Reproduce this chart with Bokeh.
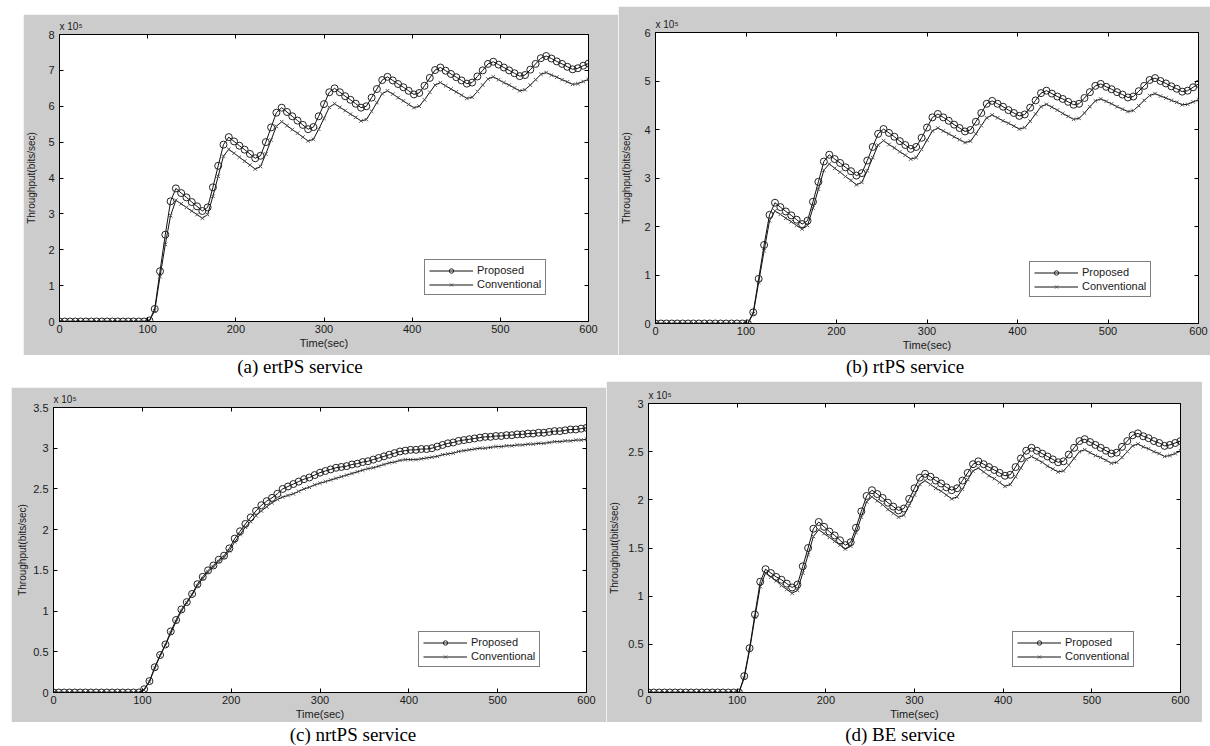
from bokeh.plotting import figure
from bokeh.models import (LinearAxis, FixedTicker, Legend, LegendItem, Div,
                          Spacer, Range1d, Title)
from bokeh.layouts import row, column
from bokeh.embed import file_html
from bokeh.resources import INLINE

# ---------------- data (throughput in units of 1e5 bits/sec) ----------------
time_s = [0, 6, 12, 18, 24, 30, 36, 42, 48, 54, 60, 66, 72, 78, 84, 90, 96,
          102, 108, 114, 120, 126, 132, 138, 144, 150, 156, 162, 168, 174, 180,
          186, 192, 198, 204, 210, 216, 222, 228, 234, 240, 246, 252, 258, 264,
          270, 276, 282, 288, 294, 300, 306, 312, 318, 324, 330, 336, 342, 348,
          354, 360, 366, 372, 378, 384, 390, 396, 402, 408, 414, 420, 426, 432,
          438, 444, 450, 456, 462, 468, 474, 480, 486, 492, 498, 504, 510, 516,
          522, 528, 534, 540, 546, 552, 558, 564, 570, 576, 582, 588, 594, 600]

Z17 = [0.0] * 17

ertps_proposed = Z17 + [
    0.03, 0.35, 1.40, 2.42, 3.35, 3.71,
    3.58, 3.46, 3.33, 3.21, 3.08, 3.18, 3.74, 4.34, 4.93, 5.14,
    5.02, 4.90, 4.79, 4.67, 4.55, 4.62, 5.00, 5.41, 5.82, 5.96,
    5.84, 5.72, 5.60, 5.48, 5.36, 5.42, 5.72, 6.06, 6.39, 6.50,
    6.39, 6.28, 6.18, 6.07, 5.96, 6.00, 6.24, 6.48, 6.73, 6.82,
    6.72, 6.62, 6.53, 6.43, 6.33, 6.37, 6.57, 6.79, 7.01, 7.08,
    6.99, 6.90, 6.81, 6.72, 6.63, 6.66, 6.83, 7.00, 7.18, 7.24,
    7.16, 7.08, 7.00, 6.92, 6.84, 6.87, 7.02, 7.18, 7.34, 7.40,
    7.33, 7.25, 7.18, 7.10, 7.03, 7.06, 7.13, 7.19]
ertps_conventional = Z17 + [
    0.02, 0.30, 1.25, 2.15, 2.95, 3.38,
    3.28, 3.18, 3.08, 2.98, 2.88, 2.98, 3.49, 4.05, 4.61, 4.80,
    4.69, 4.58, 4.47, 4.36, 4.25, 4.32, 4.67, 5.06, 5.44, 5.57,
    5.46, 5.35, 5.25, 5.14, 5.03, 5.08, 5.36, 5.66, 5.97, 6.07,
    5.97, 5.88, 5.78, 5.69, 5.59, 5.63, 5.86, 6.10, 6.35, 6.43,
    6.34, 6.24, 6.15, 6.05, 5.96, 6.00, 6.18, 6.39, 6.59, 6.66,
    6.57, 6.48, 6.40, 6.31, 6.22, 6.25, 6.41, 6.59, 6.76, 6.82,
    6.74, 6.66, 6.59, 6.51, 6.43, 6.46, 6.59, 6.74, 6.89, 6.94,
    6.87, 6.81, 6.74, 6.68, 6.61, 6.63, 6.69, 6.75]

rtps_proposed = Z17 + [
    0.00, 0.23, 0.92, 1.62, 2.24, 2.49,
    2.40, 2.31, 2.23, 2.14, 2.05, 2.12, 2.51, 2.92, 3.34, 3.48,
    3.39, 3.31, 3.22, 3.14, 3.05, 3.10, 3.36, 3.64, 3.91, 4.01,
    3.93, 3.85, 3.76, 3.68, 3.60, 3.64, 3.83, 4.04, 4.25, 4.32,
    4.25, 4.18, 4.10, 4.03, 3.96, 3.99, 4.16, 4.34, 4.53, 4.59,
    4.53, 4.47, 4.40, 4.34, 4.28, 4.31, 4.45, 4.60, 4.75, 4.80,
    4.74, 4.68, 4.63, 4.57, 4.51, 4.53, 4.65, 4.77, 4.90, 4.94,
    4.88, 4.83, 4.77, 4.72, 4.66, 4.68, 4.79, 4.90, 5.02, 5.06,
    5.00, 4.95, 4.89, 4.84, 4.78, 4.80, 4.87, 4.94]
rtps_conventional = Z17 + [
    0.00, 0.20, 0.85, 1.50, 2.12, 2.32,
    2.25, 2.17, 2.10, 2.02, 1.95, 2.02, 2.38, 2.77, 3.16, 3.29,
    3.20, 3.12, 3.03, 2.95, 2.86, 2.91, 3.15, 3.42, 3.68, 3.77,
    3.69, 3.62, 3.54, 3.47, 3.39, 3.42, 3.59, 3.78, 3.97, 4.03,
    3.97, 3.91, 3.85, 3.79, 3.73, 3.76, 3.91, 4.08, 4.24, 4.30,
    4.24, 4.18, 4.13, 4.07, 4.01, 4.04, 4.17, 4.32, 4.47, 4.52,
    4.46, 4.40, 4.33, 4.27, 4.21, 4.23, 4.34, 4.47, 4.59, 4.63,
    4.58, 4.53, 4.47, 4.42, 4.37, 4.39, 4.49, 4.60, 4.70, 4.74,
    4.69, 4.65, 4.60, 4.56, 4.51, 4.52, 4.57, 4.61]

nrtps_proposed = Z17 + [
    0.04, 0.14, 0.31, 0.46, 0.59, 0.75, 0.89, 1.02, 1.11, 1.21,
    1.33, 1.42, 1.50, 1.56, 1.63, 1.68, 1.77, 1.89, 1.98, 2.07,
    2.15, 2.23, 2.30, 2.35, 2.39, 2.44, 2.50, 2.53, 2.56, 2.59,
    2.62, 2.64, 2.67, 2.70, 2.72, 2.74, 2.76, 2.77, 2.78, 2.80,
    2.81, 2.83, 2.84, 2.86, 2.88, 2.90, 2.92, 2.94, 2.96, 2.97,
    2.98, 2.98, 2.99, 2.99, 3.00, 3.02, 3.04, 3.06, 3.07, 3.09,
    3.10, 3.11, 3.12, 3.13, 3.14, 3.14, 3.15, 3.15, 3.16, 3.16,
    3.17, 3.17, 3.18, 3.18, 3.19, 3.19, 3.20, 3.21, 3.21, 3.22,
    3.23, 3.23, 3.24, 3.25]
nrtps_conventional = Z17 + [
    0.03, 0.13, 0.30, 0.45, 0.58, 0.73, 0.87, 1.00, 1.10, 1.20,
    1.31, 1.40, 1.48, 1.54, 1.61, 1.66, 1.74, 1.85, 1.94, 2.03,
    2.10, 2.17, 2.23, 2.28, 2.33, 2.37, 2.40, 2.42, 2.44, 2.47,
    2.50, 2.52, 2.55, 2.57, 2.59, 2.61, 2.63, 2.65, 2.67, 2.69,
    2.71, 2.73, 2.75, 2.76, 2.78, 2.80, 2.82, 2.83, 2.85, 2.86,
    2.86, 2.86, 2.87, 2.88, 2.89, 2.90, 2.92, 2.93, 2.94, 2.96,
    2.97, 2.98, 2.99, 3.00, 3.00, 3.01, 3.02, 3.02, 3.03, 3.03,
    3.04, 3.04, 3.05, 3.05, 3.06, 3.06, 3.07, 3.08, 3.08, 3.09,
    3.09, 3.10, 3.10, 3.11]

be_proposed = Z17 + [
    0.00, 0.17, 0.46, 0.81, 1.15, 1.28,
    1.24, 1.20, 1.17, 1.13, 1.09, 1.12, 1.31, 1.50, 1.70, 1.77,
    1.72, 1.67, 1.63, 1.58, 1.53, 1.56, 1.71, 1.88, 2.04, 2.10,
    2.06, 2.02, 1.97, 1.93, 1.89, 1.91, 2.01, 2.12, 2.23, 2.27,
    2.24, 2.20, 2.17, 2.13, 2.10, 2.12, 2.20, 2.28, 2.37, 2.40,
    2.37, 2.34, 2.31, 2.28, 2.25, 2.26, 2.34, 2.43, 2.51, 2.54,
    2.51, 2.48, 2.45, 2.42, 2.39, 2.40, 2.47, 2.54, 2.61, 2.63,
    2.60, 2.57, 2.54, 2.51, 2.48, 2.49, 2.55, 2.61, 2.67, 2.69,
    2.66, 2.64, 2.61, 2.59, 2.56, 2.57, 2.59, 2.61]
be_conventional = Z17 + [
    0.00, 0.15, 0.44, 0.78, 1.10, 1.24,
    1.20, 1.16, 1.11, 1.07, 1.03, 1.06, 1.24, 1.43, 1.62, 1.69,
    1.65, 1.61, 1.57, 1.53, 1.49, 1.52, 1.66, 1.82, 1.98, 2.03,
    1.99, 1.95, 1.90, 1.86, 1.82, 1.84, 1.94, 2.05, 2.16, 2.20,
    2.16, 2.12, 2.09, 2.05, 2.01, 2.03, 2.11, 2.21, 2.30, 2.33,
    2.29, 2.25, 2.22, 2.18, 2.14, 2.16, 2.24, 2.33, 2.42, 2.45,
    2.42, 2.39, 2.35, 2.32, 2.29, 2.30, 2.36, 2.43, 2.50, 2.52,
    2.49, 2.46, 2.44, 2.41, 2.38, 2.39, 2.44, 2.50, 2.56, 2.58,
    2.55, 2.53, 2.50, 2.48, 2.45, 2.46, 2.48, 2.51]

x_ticks = [0, 100, 200, 300, 400, 500, 600]
x_tick_labels = ["0", "100", "200", "300", "400", "500", "600"]
y_ticks_a = [0, 1, 2, 3, 4, 5, 6, 7, 8]
y_labels_a = ["0", "1", "2", "3", "4", "5", "6", "7", "8"]
y_ticks_b = [0, 1, 2, 3, 4, 5, 6]
y_labels_b = ["0", "1", "2", "3", "4", "5", "6"]
y_ticks_c = [0, 0.5, 1, 1.5, 2, 2.5, 3, 3.5]
y_labels_c = ["0", "0.5", "1", "1.5", "2", "2.5", "3", "3.5"]
y_ticks_d = [0, 0.5, 1, 1.5, 2, 2.5, 3]
y_labels_d = ["0", "0.5", "1", "1.5", "2", "2.5", "3"]
series_names = ["Proposed", "Conventional"]
captions = ["(a) ertPS service", "(b) rtPS service", "(c) nrtPS service", "(d) BE service"]
x_title = "Time(sec)"
y_title = "Throughput(bits/sec)"
scale_note = "x 10\u2075"

for arr in [ertps_proposed, ertps_conventional, rtps_proposed, rtps_conventional,
            nrtps_proposed, nrtps_conventional, be_proposed, be_conventional]:
    assert len(arr) == len(time_s), len(arr)

# ---------------- styling ----------------
GREY = "#cccccc"
FONT = "Liberation Sans"
SERIF = "Liberation Serif"


def style_axis(ax, ticks, labels, show_labels=True):
    ax.ticker = FixedTicker(ticks=ticks)
    ax.major_tick_in = 4
    ax.major_tick_out = 0
    ax.minor_tick_in = 0
    ax.minor_tick_out = 0
    ax.major_tick_line_color = "black"
    ax.major_tick_line_width = 1
    if show_labels:
        ax.major_label_overrides = {t: l for t, l in zip(ticks, labels)}
        ax.major_label_text_font = FONT
        ax.major_label_text_font_size = "11px"
        ax.major_label_text_color = "#1a1a1a"
        ax.axis_line_color = "black"
        ax.axis_label_text_font = FONT
        ax.axis_label_text_font_style = "normal"
        ax.axis_label_text_color = "#1a1a1a"
    else:
        ax.major_label_text_font_size = "1px"
        ax.major_label_text_color = None
        ax.major_label_standoff = 0
        ax.axis_line_color = None


def make_panel(width, height, borders, ymax, yticks, ylabels, prop, conv,
               ylab_standoff, legend_loc):
    bl, br, bt, bb = borders
    p = figure(width=width, height=height, output_backend="svg", toolbar_location=None,
               x_range=Range1d(0, 600), y_range=Range1d(0, ymax),
               min_border_left=bl, min_border_right=br, min_border_top=bt,
               min_border_bottom=bb, background_fill_color="white",
               border_fill_color=GREY, outline_line_color="black",
               outline_line_width=1, margin=0)
    p.title = Title(text=scale_note, align="left", offset=0, standoff=6,
                    vertical_align="bottom", text_font=FONT, text_font_size="10px",
                    text_font_style="normal", text_color="#1a1a1a")
    p.grid.visible = False

    xa = p.xaxis[0]
    ya = p.yaxis[0]
    style_axis(xa, x_ticks, x_tick_labels)
    style_axis(ya, yticks, ylabels)
    xa.axis_label = x_title
    xa.axis_label_text_font_size = "11px"
    xa.major_label_standoff = 3
    xa.axis_label_standoff = 1
    ya.axis_label = y_title
    ya.axis_label_text_font_size = "10px"
    ya.major_label_standoff = 5
    ya.axis_label_standoff = ylab_standoff

    top = LinearAxis()
    style_axis(top, x_ticks, x_tick_labels, show_labels=False)
    p.add_layout(top, "above")
    right = LinearAxis()
    style_axis(right, yticks, ylabels, show_labels=False)
    p.add_layout(right, "right")

    lc = p.line(time_s, conv, line_color="#111111", line_width=1)
    sc = p.scatter(time_s, conv, marker="x", size=5, line_color="#555555", line_width=1)
    lp = p.line(time_s, prop, line_color="#111111", line_width=1)
    sp = p.scatter(time_s, prop, marker="circle", size=7, fill_color=None,
                   line_color="#222222", line_width=1)

    legend = Legend(items=[LegendItem(label=series_names[0], renderers=[lp, sp]),
                           LegendItem(label=series_names[1], renderers=[lc, sc])],
                    location=legend_loc, orientation="vertical",
                    border_line_color="black", border_line_width=1,
                    background_fill_color="white", background_fill_alpha=1.0,
                    label_text_font=FONT, label_text_font_size="11px",
                    label_text_color="#1a1a1a",
                    glyph_width=44, glyph_height=11, label_height=11,
                    label_standoff=4, spacing=2, padding=4, margin=0)
    p.add_layout(legend)
    return p


def caption(text, width, height, pad_top, pad_left=0):
    html = ('<div style="box-sizing:border-box; width:%dpx; padding-left:%dpx; '
            'padding-top:%dpx; text-align:center; white-space:nowrap; '
            'font-family:\'%s\', serif; font-size:19px; line-height:20px; color:#000;">%s</div>'
            % (width, pad_left, pad_top, SERIF, text))
    return Div(text=html, width=width, height=height, margin=0)


pa = make_panel(595, 341, (35, 30, 20, 34), 8, y_ticks_a, y_labels_a,
                ertps_proposed, ertps_conventional, 8, (365, 26))
pb = make_panel(592, 349, (34, 12, 26, 32), 6, y_ticks_b, y_labels_b,
                rtps_proposed, rtps_conventional, 9, (374, 26))
pc = make_panel(595, 335, (42, 20, 20, 30), 3.5, y_ticks_c, y_labels_c,
                nrtps_proposed, nrtps_conventional, 2, (365, 25))
pd = make_panel(596, 341, (42, 22, 22, 30), 3, y_ticks_d, y_labels_d,
                be_proposed, be_conventional, 5, (364, 25))

top_row = row(Spacer(width=23, height=355, margin=0),
              column(Spacer(width=595, height=14, margin=0), pa, spacing=0, margin=0),
              column(Spacer(width=592, height=6, margin=0), pb, spacing=0, margin=0),
              spacing=0, margin=0)
cap_row1 = row(caption(captions[0], 600, 26, 2),
               caption(captions[1], 610, 26, 2), spacing=0, margin=0)
bottom_row = row(Spacer(width=11, height=341, margin=0),
                 column(Spacer(width=595, height=6, margin=0), pc, spacing=0, margin=0),
                 pd, spacing=0, margin=0)
cap_row2 = row(caption(captions[2], 706, 24, 3),
               caption(captions[3], 388, 24, 3), spacing=0, margin=0)

layout = column(top_row, cap_row1, bottom_row, cap_row2, spacing=0, margin=0)

open("out.html", "w").write(file_html(layout, INLINE))
